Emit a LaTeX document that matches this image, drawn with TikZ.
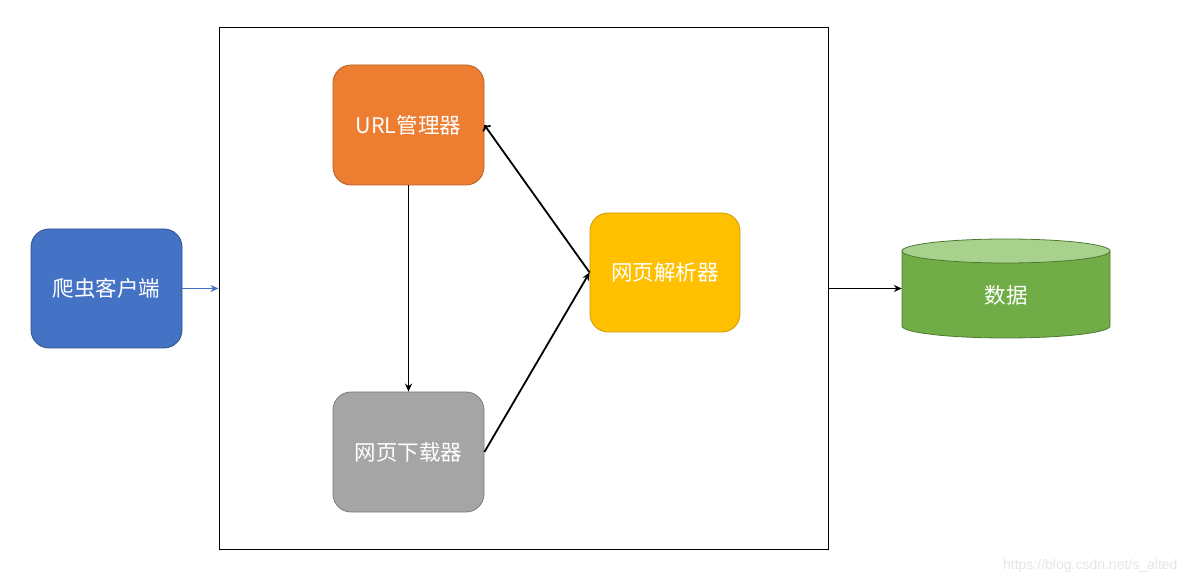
\documentclass[tikz,border=0pt]{standalone}
\usepackage{fontspec}
\setmainfont{Noto Sans CJK SC}
\newfontfamily\markfont{Liberation Sans}
\usetikzlibrary{arrows.meta}
\definecolor{clientblue}{HTML}{4472C4}
\definecolor{urlorange}{HTML}{ED7D31}
\definecolor{loadgray}{HTML}{A5A5A5}
\definecolor{parseyellow}{HTML}{FFC000}
\definecolor{datagreen}{HTML}{70AD47}
\definecolor{datatop}{HTML}{A9D18E}
\begin{document}
\begin{tikzpicture}[x=1pt,y=1pt,
  box/.style={rounded corners=18pt,minimum width=151pt,minimum height=120pt,text=white,font=\fontsize{21.5}{26}\selectfont,line width=0.8pt},
  link/.style={line width=1.8pt,-{Stealth[length=8pt,width=7pt]}}]
\useasboundingbox (0,0) rectangle (1188,584);
\node[box,draw=clientblue!70!black,fill=clientblue,minimum height=119pt] (client) at (106.5,295.5) {爬虫客户端};
\node[draw,line width=1pt,minimum width=609pt,minimum height=521pt] (frame) at (523.5,295.5) {};
\node[box,draw=urlorange!75!black,fill=urlorange] (url) at (408.5,459) {URL管理器};
\node[box,draw=loadgray!75!black,fill=loadgray] (loader) at (408.5,132) {网页下载器};
\node[box,draw=parseyellow!80!black,fill=parseyellow,minimum width=150pt,minimum height=119pt] (parser) at (665,311.5) {网页解析器};
% cylinder for the data
\draw[datagreen!70!black,line width=0.8pt,fill=datagreen] (902,333) -- (902,258) arc[start angle=180,end angle=360,x radius=104,y radius=12] -- (1110,333) -- cycle;
\draw[datagreen!70!black,line width=0.8pt,fill=datatop] (1006,333) ellipse[x radius=104,y radius=12];
\node[minimum width=208pt,minimum height=99pt,text=white,font=\fontsize{21.5}{26}\selectfont] (data) at (1006,289) {数据};
\draw[clientblue,line width=1pt,-{Stealth[length=8pt,width=7pt]}] (client.east) -- (frame.west);
\draw[link] (url.south) -- (loader.north);
\draw[link] (loader.east) -- (parser.west);
\draw[line width=1.8pt,-{To[length=5pt,width=10pt]}] (parser.west) -- (url.east);
\draw[link] (frame.east) -- (frame.east -| data.west);
\node[anchor=east,text=black!10,font=\markfont\fontsize{14}{16}\selectfont] (mark) at (1181,18) {https://blog.csdn.net/s\_alted};
\end{tikzpicture}
\end{document}
